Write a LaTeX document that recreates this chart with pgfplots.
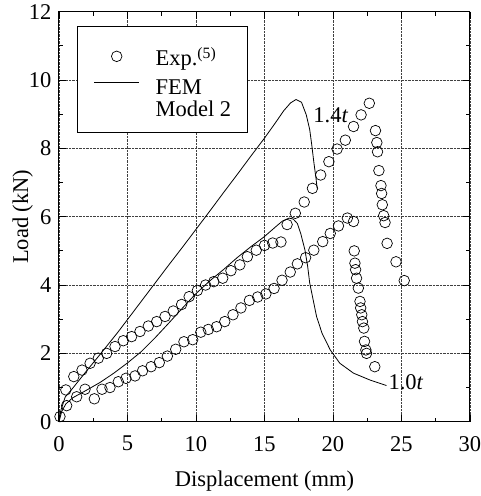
\documentclass[border=0pt]{standalone}
\usepackage{fontspec}
\setmainfont{Liberation Serif}
\usepackage{pgfplots}
\pgfplotsset{compat=1.18}
\usetikzlibrary{calc}

% Legend symbols for the two kinds of series
\pgfplotsset{
  explegend/.style={legend image code/.code={\draw[##1, yshift=1.5pt] plot coordinates {(22.5pt,0pt)};}},
  femlegend/.style={legend image code/.code={\draw[##1, yshift=7pt] (0pt,0pt) -- (45pt,0pt);}},
}

% Experimental load-displacement records (two specimens)
\pgfplotstableread{
x y
0.07 0.15
0.50 0.93
1.08 1.32
1.68 1.51
2.27 1.71
2.87 1.86
3.48 2.00
4.09 2.20
4.69 2.37
5.30 2.49
5.91 2.64
6.52 2.80
7.13 2.93
7.74 3.08
8.34 3.24
8.95 3.43
9.50 3.66
10.10 3.84
10.70 4.00
11.30 4.10
11.95 4.20
12.55 4.42
13.20 4.59
13.75 4.83
14.40 5.02
15.00 5.16
15.60 5.23
16.20 5.26
16.65 5.77
17.25 6.10
17.90 6.43
18.50 6.83
19.10 7.22
19.70 7.61
20.30 7.98
20.90 8.24
21.50 8.64
22.05 8.98
22.65 9.32
23.10 8.52
23.20 8.17
23.25 7.90
23.35 7.35
23.50 6.91
23.55 6.68
23.60 6.35
23.70 6.03
23.80 5.83
23.95 5.22
24.60 4.68
25.20 4.13
}\expA

\pgfplotstableread{
x y
0.56 0.47
1.29 0.73
1.90 0.95
2.58 0.67
3.14 0.95
3.72 1.00
4.33 1.17
4.89 1.27
5.55 1.34
6.10 1.49
6.72 1.61
7.32 1.73
7.91 1.92
8.52 2.12
9.12 2.34
9.76 2.40
10.35 2.62
10.90 2.70
11.50 2.78
12.10 2.93
12.70 3.13
13.28 3.33
13.90 3.55
14.50 3.65
15.10 3.74
15.70 3.90
16.28 4.14
16.88 4.38
17.40 4.62
18.00 4.80
18.60 5.02
19.25 5.27
19.80 5.51
20.40 5.73
21.05 5.96
21.50 5.86
21.55 5.00
21.60 4.64
21.65 4.45
21.72 4.20
21.85 3.91
21.97 3.52
22.02 3.33
22.10 3.13
22.15 2.93
22.25 2.74
22.30 2.35
22.40 2.10
22.45 2.00
23.05 1.61
}\expB

% FEM (Model 2) curves
\pgfplotstableread{
x y
0 0
0.15 0.35
0.45 0.72
1.0 0.98
2.0 1.48
3.0 1.97
3.7 2.32
4.3 2.62
5.0 2.99
6.0 3.52
7.0 4.05
8.0 4.58
9.0 5.10
10.0 5.63
11.0 6.16
12.0 6.70
13.0 7.23
14.0 7.77
15.0 8.30
15.8 8.75
16.4 9.10
16.9 9.33
17.3 9.43
17.7 9.35
18.05 8.98
18.3 8.55
18.45 8.10
18.6 7.60
18.75 7.15
18.85 6.82
}\femA

\pgfplotstableread{
x y
0 0
0.2 0.30
0.5 0.52
1.0 0.70
2.0 0.92
3.0 1.15
4.0 1.42
5.0 1.72
6.0 2.05
7.0 2.45
8.0 2.88
9.0 3.32
10.0 3.75
11.0 4.12
12.0 4.45
13.0 4.80
14.0 5.12
15.0 5.42
15.8 5.70
16.3 5.87
16.8 5.96
17.1 5.93
17.4 5.80
17.65 5.50
17.95 5.03
18.15 4.55
18.3 4.06
18.55 3.57
18.8 3.08
19.2 2.59
19.8 2.10
20.5 1.71
21.5 1.42
22.7 1.22
23.9 1.06
}\femB

\begin{document}
\begin{tikzpicture}
\begin{axis}[
  name=ax,
  scale only axis,
  width=411pt, height=410pt,
  xmin=0, xmax=30, ymin=0, ymax=12,
  xtick={0,5,...,30}, ytick={0,2,...,12},
  minor x tick num=1, minor y tick num=1,
  tick align=inside,
  major tick length=7pt, minor tick length=4pt,
  grid=major,
  major grid style={densely dotted, line width=0.6pt, black!75},
  axis line style={line width=1pt},
  every tick/.style={black, line width=0.8pt},
  /pgf/number format/assume math mode=true,
  tick label style={font=\fontsize{22.5}{26}\selectfont},
  label style={font=\fontsize{22.5}{26}\selectfont},
  xlabel={Displacement (mm)},
  ylabel={Load (kN)},
  xlabel style={at={(axis description cs:0.5,-0.145)}, anchor=center},
  ylabel style={at={(axis description cs:-0.088,0.5)}, anchor=center},
  xticklabel style={yshift=-11pt},
  yticklabel style={xshift=-4pt},
  legend cell align=left,
  legend style={at={(axis cs:1.34,11.57)}, anchor=north west,
    draw=black, line width=0.9pt, fill=white,
    font=\fontsize{22.5}{26}\selectfont,
    inner xsep=16pt, inner ysep=10pt, row sep=0pt,
    nodes={inner sep=0pt},
    /tikz/every odd column/.append style={column sep=16pt}},
]
\addplot[only marks, mark=o, mark size=5.3pt, mark options={line width=0.7pt}, explegend]
  table {\expA};
\addlegendentry[text height=29pt, text depth=13pt]{Exp.\textsuperscript{(5)}}
\addplot[forget plot, only marks, mark=o, mark size=5.3pt, mark options={line width=0.7pt}]
  table {\expB};
\addplot[black, line width=0.8pt, femlegend]
  table {\femA};
\addlegendentry[text height=16pt, text depth=5.3pt]{FEM}
\addplot[forget plot, black, line width=0.8pt] table {\femB};
\addlegendimage{empty legend}
\addlegendentry[text height=16pt, text depth=6.3pt]{Model 2}
\node[anchor=base west, inner sep=0pt, font=\fontsize{22.5}{26}\selectfont]
  at (axis cs:18.56,8.77) {1.4\textit{t}};
\node[anchor=base west, inner sep=0pt, font=\fontsize{22.5}{26}\selectfont]
  at (axis cs:24.04,0.93) {1.0\textit{t}};
\end{axis}
\pgfresetboundingbox
\path[use as bounding box] ($(ax.south west)+(-59pt,-74.3pt)$) rectangle ($(ax.north east)+(11pt,11.7pt)$);
\end{tikzpicture}
\end{document}
